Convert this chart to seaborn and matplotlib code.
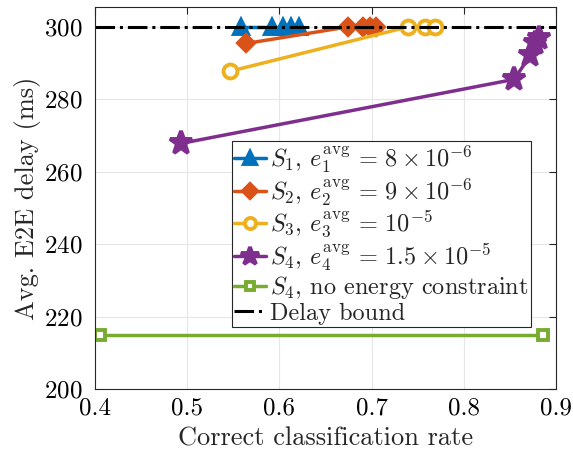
import matplotlib
matplotlib.use("Agg")
import matplotlib.pyplot as plt
import seaborn as sns
import pandas as pd

# data
s1_x = [0.558, 0.592, 0.604, 0.613, 0.621]
s1_y = [300, 300, 300, 300, 300]
s2_x = [0.564, 0.675, 0.691, 0.698, 0.705]
s2_y = [295.4, 300, 300, 300, 300]
s3_x = [0.546, 0.740, 0.758, 0.769]
s3_y = [287.7, 300, 300, 300]
s4_x = [0.493, 0.855, 0.872, 0.877, 0.882]
s4_y = [267.8, 285.5, 292.1, 295.4, 297.0]
s4ne_x = [0.405, 0.886]
s4ne_y = [215, 215]
bound_x = [0.4, 0.9]
bound_y = [300, 300]

labels = [
    r'$S_1$, $e_1^{\rm avg} \,=\, 8\times10^{-6}$',
    r'$S_2$, $e_2^{\rm avg} \,=\, 9\times10^{-6}$',
    r'$S_3$, $e_3^{\rm avg} \,=\, 10^{-5}$',
    r'$S_4$, $e_4^{\rm avg} \,=\, 1.5\times10^{-5}$',
    r'$S_4$, no energy constraint',
    'Delay bound',
]

sns.set_style("white")
plt.rcParams['font.family'] = ['cmr10', 'DejaVu Serif']
plt.rcParams['mathtext.fontset'] = 'cm'
plt.rcParams['axes.unicode_minus'] = False
plt.rcParams['axes.formatter.use_mathtext'] = True

fig = plt.figure(figsize=(5.73, 4.59), dpi=100)
ax = fig.add_axes([0.166, 0.1525, 0.804, 0.8325])

lw = 2.5
series = [
    (s1_x, s1_y, '#0072BD', '^', 10, '#0072BD'),
    (s2_x, s2_y, '#D95319', 'D', 8.5, '#D95319'),
    (s3_x, s3_y, '#EDB120', 'o', 10, 'white'),
    (s4_x, s4_y, '#7E2F8E', '*', 17, '#7E2F8E'),
    (s4ne_x, s4ne_y, '#77AC30', 's', 7, 'white'),
]
for (x, y, c, m, ms, mfc), lab in zip(series, labels[:5]):
    df = pd.DataFrame({'x': x, 'y': y})
    sns.lineplot(data=df, x='x', y='y', ax=ax, color=c, lw=lw, marker=m,
                 markersize=ms, markerfacecolor=mfc, markeredgecolor=c,
                 markeredgewidth=2.8, label=lab, sort=False)

dfb = pd.DataFrame({'x': bound_x, 'y': bound_y})
sns.lineplot(data=dfb, x='x', y='y', ax=ax, color='black', lw=2.2,
             linestyle='-.', label=labels[5], sort=False)

ax.set_xlim(0.4, 0.9)
ax.set_ylim(200, 305.5)
ax.set_xticks([0.4, 0.5, 0.6, 0.7, 0.8, 0.9])
ax.set_yticks([200, 220, 240, 260, 280, 300])
ax.set_xticklabels(['0.4', '0.5', '0.6', '0.7', '0.8', '0.9'])
ax.grid(True, color='#e6e6e6', lw=0.8)
ax.set_axisbelow(True)
ax.tick_params(direction='in', length=5, width=0.8, colors='#262626',
               labelsize=18, top=True, right=True, labelcolor='black')
ax.tick_params(axis='y', pad=9)
ax.tick_params(axis='x', pad=6)
for sp in ax.spines.values():
    sp.set_color('#262626')
    sp.set_linewidth(0.8)
ax.set_xlabel('Correct classification rate', fontsize=19, labelpad=5)
ax.set_ylabel('Avg. E2E delay (ms)', fontsize=19, labelpad=2)

leg = ax.legend(loc='upper left', bbox_to_anchor=(0.297, 0.649), fontsize=17.5,
                frameon=True, fancybox=False, framealpha=1, edgecolor='#262626',
                handlelength=1.3, handletextpad=0.15, labelspacing=0.05,
                borderpad=0.1, borderaxespad=0, markerscale=0.8)
leg.get_frame().set_linewidth(0.8)

fig.savefig('out.png', dpi=100)
